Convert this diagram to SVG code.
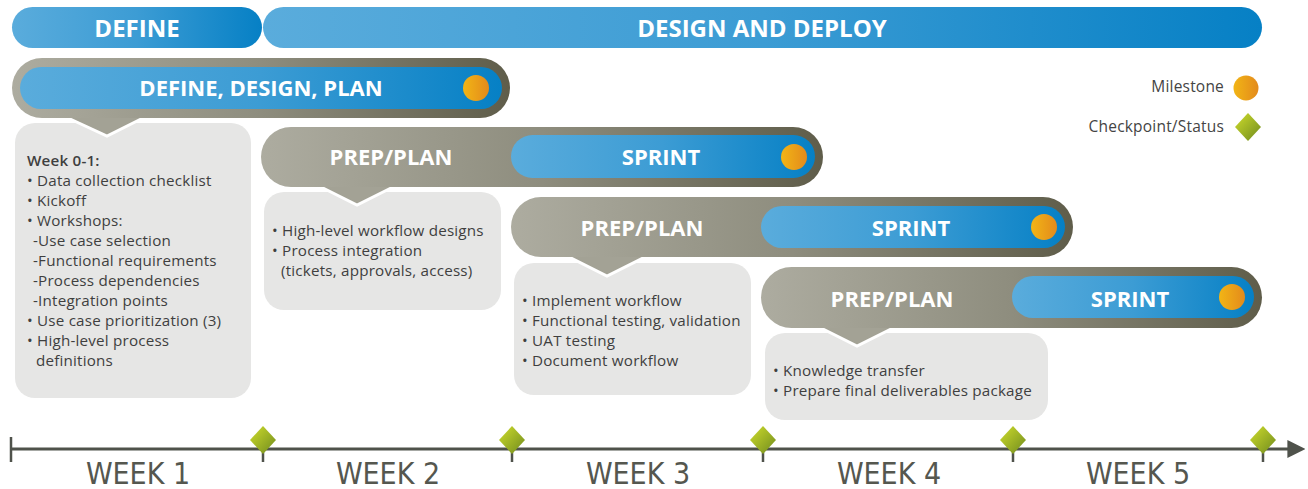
<svg xmlns="http://www.w3.org/2000/svg" width="1308" height="489" viewBox="0 0 1308 489">
<defs>
<linearGradient id="blue" x1="0" y1="0" x2="1" y2="0">
<stop offset="0" stop-color="#5aacdc"/>
<stop offset="0.5" stop-color="#3c9cd4"/>
<stop offset="1" stop-color="#0680c5"/>
</linearGradient>
<linearGradient id="grey" x1="0" y1="0" x2="1" y2="0">
<stop offset="0" stop-color="#adaca0"/>
<stop offset="0.5" stop-color="#8e8d7e"/>
<stop offset="1" stop-color="#5f5d4a"/>
</linearGradient>
<linearGradient id="orange" x1="0" y1="0" x2="1" y2="0">
<stop offset="0" stop-color="#f2b515"/>
<stop offset="1" stop-color="#e38a1c"/>
</linearGradient>
<linearGradient id="green" x1="0" y1="0" x2="1" y2="1">
<stop offset="0" stop-color="#cfdd2c"/>
<stop offset="1" stop-color="#6f8a1e"/>
</linearGradient>
<marker id="arrow" viewBox="0 0 10 10" refX="2" refY="5" markerWidth="6" markerHeight="8" markerUnits="strokeWidth" orient="auto">
<path d="M0,0 L10,5 L0,10 z" fill="#4f524b"/>
</marker>
</defs>
<style>
.hd{font-family:"Open Sans","Liberation Sans",sans-serif;font-weight:700;font-size:22px;fill:#ffffff;text-anchor:middle}
.top{font-size:24px}
.body{font-family:"Open Sans","Liberation Sans",sans-serif;font-size:15.2px;letter-spacing:0.2px;fill:#3f3f3f}
.box{fill:#e6e6e5}
.notch{fill:#a3a295;stroke:#ffffff;stroke-width:3}
.wk{font-family:"Liberation Sans Narrow","DejaVu Sans Condensed","Liberation Sans",sans-serif;font-size:30px;fill:#55574f;text-anchor:middle}
.leg{font-family:"Open Sans","Liberation Sans",sans-serif;font-size:15.5px;letter-spacing:0.2px;fill:#444444;text-anchor:end}
.axis{stroke:#4f524b;stroke-width:3;fill:none}
.tick{stroke:#4f524b;stroke-width:2.5}
</style>

<g id="phase-define">
<rect x="12" y="7" width="250" height="41" rx="20.5" fill="url(#blue)"/>
<text class="hd top" x="137" y="37">DEFINE</text>
</g>
<g id="phase-design-deploy">
<rect x="263" y="7" width="999" height="41" rx="20.5" fill="url(#blue)"/>
<text class="hd top" x="762" y="37">DESIGN AND DEPLOY</text>
</g>

<g id="row1">
<rect class="box" x="15" y="123" width="236" height="275" rx="20"/>
<polygon class="notch" points="55,112 155,112 107,136"/>
<rect x="12" y="58" width="498" height="60" rx="30" fill="url(#grey)"/>
<rect x="20" y="67" width="482" height="42" rx="21" fill="url(#blue)"/>
<text class="hd" x="261" y="96">DEFINE, DESIGN, PLAN</text>
<circle cx="476" cy="88" r="13" fill="url(#orange)"/>
<text class="body" x="27" y="166" font-weight="600">Week 0-1:</text>
<text class="body" x="27" y="186">• Data collection checklist</text>
<text class="body" x="27" y="206">• Kickoff</text>
<text class="body" x="27" y="226">• Workshops:</text>
<text class="body" x="33" y="246">-Use case selection</text>
<text class="body" x="33" y="266">-Functional requirements</text>
<text class="body" x="33" y="286">-Process dependencies</text>
<text class="body" x="33" y="306">-Integration points</text>
<text class="body" x="27" y="326">• Use case prioritization (3)</text>
<text class="body" x="27" y="346">• High-level process</text>
<text class="body" x="36" y="366">definitions</text>
</g>

<g id="row2">
<rect class="box" x="264" y="192" width="237" height="118" rx="20"/>
<polygon class="notch" points="309,181 405,181 357,205"/>
<rect x="261" y="127" width="562" height="60" rx="30" fill="url(#grey)"/>
<rect x="511" y="135" width="304" height="43" rx="21.5" fill="url(#blue)"/>
<text class="hd" x="391" y="165">PREP/PLAN</text>
<text class="hd" x="661" y="165">SPRINT</text>
<circle cx="794" cy="157" r="13" fill="url(#orange)"/>
<text class="body" x="272" y="236">• High-level workflow designs</text>
<text class="body" x="272" y="256">• Process integration</text>
<text class="body" x="281" y="276">(tickets, approvals, access)</text>
</g>

<g id="row3">
<rect class="box" x="514" y="263" width="237" height="132" rx="20"/>
<polygon class="notch" points="559,252 655,252 607,276"/>
<rect x="511" y="197" width="562" height="60" rx="30" fill="url(#grey)"/>
<rect x="761" y="206" width="304" height="42" rx="21" fill="url(#blue)"/>
<text class="hd" x="642" y="236">PREP/PLAN</text>
<text class="hd" x="911" y="236">SPRINT</text>
<circle cx="1044" cy="227" r="13" fill="url(#orange)"/>
<text class="body" x="522" y="306">• Implement workflow</text>
<text class="body" x="522" y="326">• Functional testing, validation</text>
<text class="body" x="522" y="346">• UAT testing</text>
<text class="body" x="522" y="366">• Document workflow</text>
</g>

<g id="row4">
<rect class="box" x="765" y="333" width="283" height="87" rx="20"/>
<polygon class="notch" points="809,322 905,322 857,346"/>
<rect x="761" y="267" width="501" height="61" rx="30.5" fill="url(#grey)"/>
<rect x="1012" y="276" width="242" height="42" rx="21" fill="url(#blue)"/>
<text class="hd" x="892" y="307">PREP/PLAN</text>
<text class="hd" x="1130" y="307">SPRINT</text>
<circle cx="1232" cy="297" r="13" fill="url(#orange)"/>
<text class="body" x="773" y="376">• Knowledge transfer</text>
<text class="body" x="773" y="396">• Prepare final deliverables package</text>
</g>

<g id="legend">
<text class="leg" x="1224" y="92">Milestone</text>
<circle cx="1246" cy="88" r="12.5" fill="url(#orange)"/>
<text class="leg" x="1224" y="132">Checkpoint/Status</text>
<polygon points="1248,113 1261,127 1248,141 1235,127" fill="url(#green)"/>
</g>

<g id="connectors">
<line class="axis" x1="11" y1="449" x2="1291" y2="449" marker-end="url(#arrow)"/>
<line class="tick" x1="11" y1="437" x2="11" y2="462"/>
<line class="tick" x1="263" y1="449" x2="263" y2="462"/>
<line class="tick" x1="512" y1="449" x2="512" y2="462"/>
<line class="tick" x1="763" y1="449" x2="763" y2="462"/>
<line class="tick" x1="1013" y1="449" x2="1013" y2="462"/>
<line class="tick" x1="1263" y1="449" x2="1263" y2="462"/>
</g>

<g id="checkpoints">
<polygon points="263,426 276,440 263,454 250,440" fill="url(#green)"/>
<polygon points="512,426 525,440 512,454 499,440" fill="url(#green)"/>
<polygon points="763,426 776,440 763,454 750,440" fill="url(#green)"/>
<polygon points="1013,426 1026,440 1013,454 1000,440" fill="url(#green)"/>
<polygon points="1263,426 1276,440 1263,454 1250,440" fill="url(#green)"/>
</g>

<g id="weeks">
<text class="wk" x="138" y="484">WEEK 1</text>
<text class="wk" x="388" y="484">WEEK 2</text>
<text class="wk" x="638" y="484">WEEK 3</text>
<text class="wk" x="889" y="484">WEEK 4</text>
<text class="wk" x="1138" y="484">WEEK 5</text>
</g>
</svg>
